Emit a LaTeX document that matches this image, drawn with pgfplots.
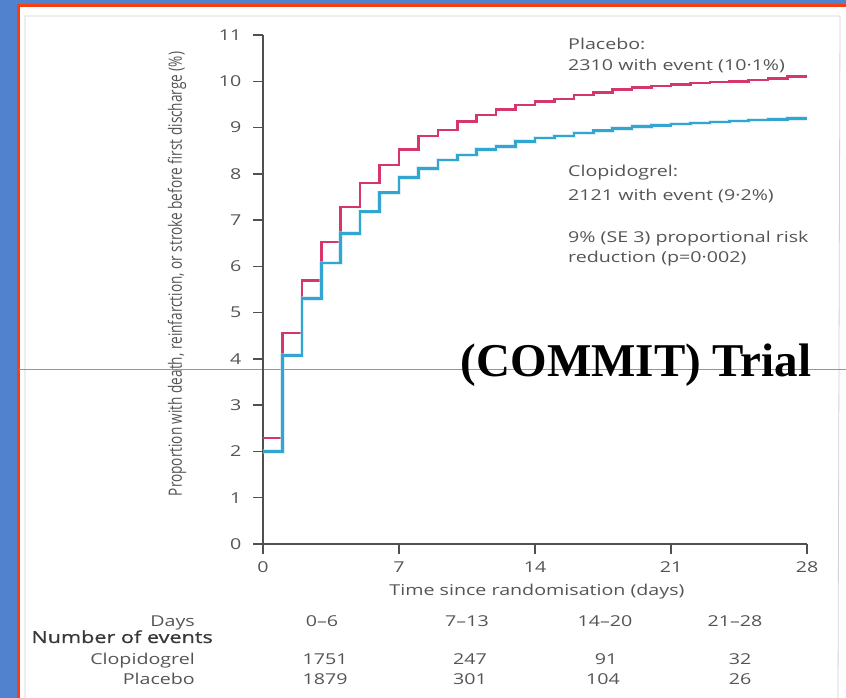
\documentclass[border=0pt]{standalone}
\usepackage{pgfplots}
\pgfplotsset{compat=1.18}
\usepackage{fontspec}
\usepackage{graphicx}
\setmainfont{Open Sans}
\newfontfamily\chartfont[FakeStretch=1.31]{Open Sans}
\newfontfamily\chartbold[FakeStretch=1.31,FakeBold=0.9]{Open Sans}
\newfontfamily\titlefont{Liberation Serif}
\definecolor{slideblue}{RGB}{80,130,205}
\definecolor{framered}{RGB}{250,60,20}
\definecolor{placebo}{RGB}{213,55,108}
\definecolor{clopi}{RGB}{50,166,208}
\definecolor{inkgray}{RGB}{85,85,85}
\definecolor{rulegray}{RGB}{80,80,80}
\definecolor{lineblue}{RGB}{110,155,225}

% cumulative event rate (%) at the start of each day
\pgfplotstableread{
day placebo clopidogrel
0   2.29  2.00
1   4.56  4.08
2   5.70  5.30
3   6.53  6.07
4   7.28  6.71
5   7.80  7.18
6   8.19  7.59
7   8.53  7.92
8   8.82  8.12
9   8.95  8.30
10  9.13  8.41
11  9.27  8.53
12  9.39  8.59
13  9.49  8.70
14  9.56  8.77
15  9.62  8.82
16  9.70  8.88
17  9.76  8.93
18  9.82  8.98
19  9.86  9.02
20  9.90  9.05
21  9.93  9.08
22  9.96  9.10
23  9.98  9.12
24  10.00 9.14
25  10.03 9.16
26  10.06 9.18
27  10.10 9.20
28  10.10 9.20
}\eventdata

\begin{document}
\begin{tikzpicture}[x=1pt,y=1pt]
\useasboundingbox (0,0) rectangle (846,698);
% slide background and frame
\fill[slideblue] (0,0) rectangle (846,698);
\fill[white] (19,0) rectangle (846,691);
\draw[framered, line width=3pt] (18,0) -- (18,692.5) -- (846,692.5);
% edge of the scanned page
\draw[black!18, line width=0.8pt] (25,0) -- (25,682) -- (840,682) -- (838,0);
% slide rule
\draw[lineblue, line width=0.9pt] (19,329) -- (846,329);

\begin{axis}[
  at={(263pt,154pt)}, anchor=south west,
  scale only axis, width=544pt, height=509pt,
  xmin=0, xmax=28, ymin=0, ymax=11,
  axis x line=bottom, axis y line=left,
  axis line style={-, draw=rulegray, line width=1.5pt},
  xtick={0,7,14,21,28}, ytick={0,1,...,11},
  tick align=outside, major tick length=10pt,
  every tick/.style={draw=rulegray, line width=1.5pt},
  /pgf/number format/assume math mode=true,
  ticklabel style={font=\chartfont\fontsize{15}{17}\selectfont, text=inkgray},
  xticklabel style={yshift=-4pt},
  yticklabel style={xshift=-8pt},
  clip=false,
]
\addplot[const plot, draw=placebo, line width=2.6pt] table[x=day, y=placebo] {\eventdata};
\addplot[const plot, draw=clopi!35, line width=4.5pt, opacity=0.5, forget plot] table[x=day, y=clopidogrel] {\eventdata};
\addplot[const plot, draw=clopi, line width=2.6pt] table[x=day, y=clopidogrel] {\eventdata};
\end{axis}

% axis titles
\node[rotate=90, text=inkgray, font=\fontsize{13.6}{15}\selectfont] at (177,424)
  {\scalebox{1}[1.35]{Proportion with death, reinfarction, or stroke before first discharge (\%)}};
\node[text=inkgray, font=\chartfont\fontsize{15}{17}\selectfont] at (537,106)
  {Time since randomisation (days)};

% curve annotations
\begin{scope}[every node/.style={anchor=base west, text=inkgray, inner sep=0pt,
    font=\chartfont\fontsize{15}{17}\selectfont}]
\node at (568,648) {Placebo:};
\node at (568,627) {2310 with event (10·1\%)};
\node at (568,521) {Clopidogrel:};
\node at (568,497) {2121 with event (9·2\%)};
\node at (568,455) {9\% (SE 3) proportional risk};
\node at (568,435) {reduction (p=0·002)};
\end{scope}

% events table
\begin{scope}[every node/.style={anchor=base, text=inkgray, inner sep=0pt,
    font=\chartfont\fontsize{15}{17}\selectfont}]
\node[anchor=base east] at (195,71) {Days};
\node at (322,71) {0–6};
\node at (467,71) {7–13};
\node at (605,71) {14–20};
\node at (735,71) {21–28};
\node[anchor=base east, font=\chartbold\fontsize{16.5}{18}\selectfont, text=black!78] at (213,55) {Number of events};
\node[anchor=base east] at (195,33) {Clopidogrel};
\node at (325,33) {1751};
\node at (470,33) {247};
\node at (606,33) {91};
\node at (740,33) {32};
\node[anchor=base east] at (195,13) {Placebo};
\node at (325,13) {1879};
\node at (470,13) {301};
\node at (603,13) {104};
\node at (740,13) {26};
\end{scope}

% slide caption
\node[anchor=base, inner sep=0pt, font=\titlefont\bfseries\fontsize{47}{51}\selectfont] at (636,321)
  {(COMMIT) Trial};
\end{tikzpicture}
\end{document}
